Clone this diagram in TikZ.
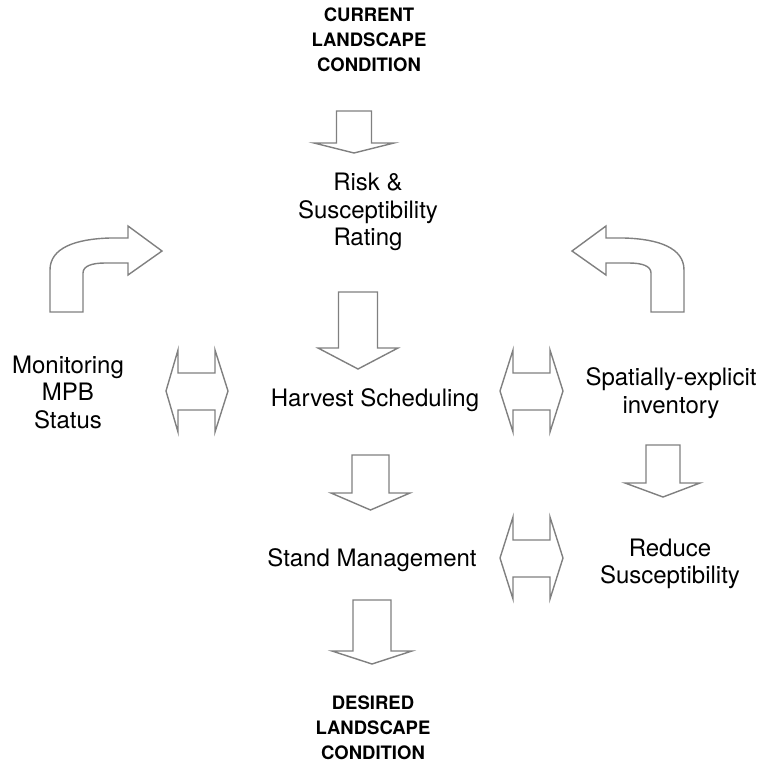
\documentclass[tikz,border=0pt]{standalone}
\usepackage{fontspec}
\setmainfont{TeX Gyre Heros}
\definecolor{arrowgray}{RGB}{128,128,128}
\tikzset{
  blockarrow/.style={draw=arrowgray, line width=1.4pt, fill=white, line join=miter},
  steptext/.style={font=\fontsize{24}{27.5}\selectfont, align=center, inner sep=0pt},
  endtext/.style={font=\fontsize{18.5}{25}\selectfont\bfseries, align=center, inner sep=0pt}
}
\begin{document}
\begin{tikzpicture}[x=1pt, y=-1pt]
    \useasboundingbox (0,0) rectangle (760,769);

    % Text of the main column and the sides
    \node[endtext] (current) at (369,40) {CURRENT\\LANDSCAPE\\CONDITION};
    \node[steptext] (risk) at (368,212) {Risk \&\\Susceptibility\\Rating};
    \node[steptext] (monitor) at (68,392) {Monitoring\\MPB\\Status};
    \node[steptext] (harvest) at (375,400) {Harvest Scheduling};
    \node[steptext] (inventory) at (671,393) {Spatially-explicit\\inventory};
    \node[steptext] (stand) at (372,560) {Stand Management};
    \node[steptext] (reduce) at (670,564) {Reduce\\Susceptibility};
    \node[endtext] (desired) at (373,728) {DESIRED\\LANDSCAPE\\CONDITION};

    % Block arrows down the main column
    \draw[blockarrow] (336.5,111) -- (371.5,111) -- (371.5,143) -- (394,143) -- (354,153) -- (314,143) -- (336.5,143) -- cycle;
    \draw[blockarrow] (338.5,292) -- (377.5,292) -- (377.5,348) -- (398,348) -- (358,369) -- (318,348) -- (338.5,348) -- cycle;
    \draw[blockarrow] (352,455) -- (389,455) -- (389,493) -- (410,493) -- (370.5,510) -- (331,493) -- (352,493) -- cycle;
    \draw[blockarrow] (353,600) -- (391,600) -- (391,651) -- (412,651) -- (372,664) -- (332,651) -- (353,651) -- cycle;

    % Small arrow on the right side
    \draw[blockarrow] (646,445) -- (680,445) -- (680,483) -- (700,483) -- (663,497) -- (625,483) -- (646,483) -- cycle;

    % Curved arrows back to the rating
    \draw[blockarrow] (50,312) -- (50,270) .. controls (50,248) and (75,239) .. (110,238) -- (128,238) -- (128,226) -- (162,251) -- (128,275) -- (128,263) -- (105,263) .. controls (92,263) and (83,266) .. (83,273) -- (83,312) -- cycle;
    \draw[blockarrow] (684,312) -- (684,270) .. controls (684,248) and (659,239) .. (624,238) -- (606,238) -- (606,226) -- (572,251) -- (606,275) -- (606,263) -- (629,263) .. controls (642,263) and (651,266) .. (651,273) -- (651,312) -- cycle;

    % Double arrows between the columns
    \draw[blockarrow] (166,391) -- (178,350) -- (178,373) -- (215,373) -- (215,350) -- (228,391) -- (215,432) -- (215,410) -- (178,410) -- (178,432) -- cycle;
    \draw[blockarrow] (500,391) -- (513,350) -- (513,373) -- (550,373) -- (550,350) -- (563,391) -- (550,432) -- (550,410) -- (513,410) -- (513,432) -- cycle;
    \draw[blockarrow] (500,558) -- (513,517) -- (513,540) -- (550,540) -- (550,517) -- (563,558) -- (550,599) -- (550,577) -- (513,577) -- (513,599) -- cycle;
\end{tikzpicture}
\end{document}
